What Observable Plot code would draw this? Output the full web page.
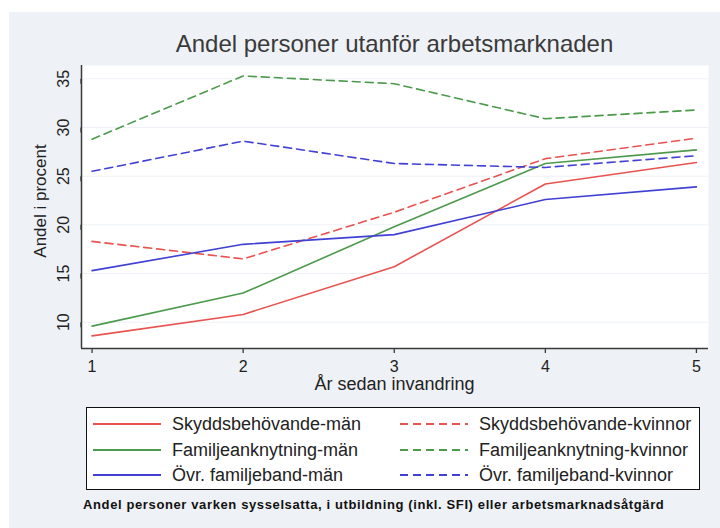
<!DOCTYPE html>
<html>
<head>
<meta charset="utf-8">
<script src="https://cdn.jsdelivr.net/npm/d3@7"></script>
<script src="https://cdn.jsdelivr.net/npm/@observablehq/plot@0.6"></script>
<style>
  html, body { margin: 0; padding: 0; background: #ffffff; }
  #wrap { position: relative; width: 720px; height: 528px; overflow: hidden; background: #ffffff;
          font-family: "Liberation Sans", Arial, Helvetica, sans-serif; color: #222; }
  #panel { position: absolute; left: 9px; top: 12px; right: 0; bottom: 0; background: #eef1f5; }
  #chart { position: absolute; left: 0; top: 0; }
  #chart svg { background: transparent; overflow: visible; }
  .title { position: absolute; left: 81px; width: 627px; top: 32px; text-align: center;
           font-size: 24px; line-height: 24px; color: #3a3a3a; white-space: nowrap; }
  .xtitle { position: absolute; left: 81px; width: 627px; top: 376px; text-align: center;
            font-size: 18px; line-height: 16px; color: #222; white-space: nowrap; }
  .ytitle { position: absolute; left: 40px; top: 201px; transform: translate(-50%, -50%) rotate(-90deg);
            font-size: 17px; line-height: 17px; color: #222; white-space: nowrap; }
  #legend { position: absolute; left: 86px; top: 407px; width: 614px; height: 83px; box-sizing: border-box;
            border: 1.5px solid #111; background: #ffffff; }
  .item { position: absolute; display: flex; align-items: center; height: 24px; white-space: nowrap;
          font-size: 18px; color: #222; }
  .item svg { display: block; margin-right: 11px; }
  .caption { position: absolute; left: 83px; top: 497px; font-size: 13px; letter-spacing: 0.62px;
             font-weight: bold; color: #111; white-space: nowrap; }
</style>
</head>
<body>
<div id="wrap">
  <div id="panel"></div>
  <div id="chart"></div>
  <div class="title">Andel personer utanför arbetsmarknaden</div>
  <div class="xtitle">År sedan invandring</div>
  <div class="ytitle">Andel i procent</div>
  <div id="legend"></div>
  <div class="caption">Andel personer varken sysselsatta, i utbildning (inkl. SFI) eller arbetsmarknadsåtgärd</div>
</div>
<script>
// ---- data ----
const years = [1, 2, 3, 4, 5];
const yTicks = [10, 15, 20, 25, 30, 35];
const xTicks = [1, 2, 3, 4, 5];

const skyddMan     = [8.6, 10.8, 15.7, 24.2, 26.4];
const skyddKvinnor = [18.3, 16.5, 21.3, 26.8, 28.9];
const famMan       = [9.6, 13.0, 19.8, 26.3, 27.7];
const famKvinnor   = [28.8, 35.3, 34.5, 30.9, 31.8];
const ovrMan       = [15.3, 18.0, 19.0, 22.6, 23.9];
const ovrKvinnor   = [25.5, 28.6, 26.3, 25.9, 27.1];

const seriesNames = [
  "Skyddsbehövande-män", "Skyddsbehövande-kvinnor",
  "Familjeanknytning-män", "Familjeanknytning-kvinnor",
  "Övr. familjeband-män", "Övr. familjeband-kvinnor"
];
const seriesValues = [skyddMan, skyddKvinnor, famMan, famKvinnor, ovrMan, ovrKvinnor];
const seriesColors = ["#e8524f", "#e8524f", "#4c9a4c", "#4c9a4c", "#4040d4", "#4040d4"];
const seriesDashed = [false, true, false, true, false, true];

// ---- rows ----
const rows = [];
seriesNames.forEach((name, s) => {
  years.forEach((yr, i) => rows.push({serie: name, year: yr, value: seriesValues[s][i]}));
});

const xDomain = [0.93, 5.08];
const yDomain = [7.3, 36.37];

const lineMarks = seriesNames.map((name, s) =>
  Plot.line(rows.filter(d => d.serie === name), {
    x: "year", y: "value",
    stroke: seriesColors[s],
    strokeWidth: 1.6,
    strokeDasharray: seriesDashed[s] ? "8,5" : null,
    curve: "linear"
  })
);

const chart = Plot.plot({
  width: 720,
  height: 400,
  marginLeft: 81,
  marginRight: 12,
  marginTop: 65,
  marginBottom: 52,
  style: {background: "transparent", fontFamily: "'Liberation Sans', Arial, sans-serif", color: "#222"},
  x: {domain: xDomain, axis: null},
  y: {domain: yDomain, axis: null},
  marks: [
    Plot.frame({fill: "#ffffff", stroke: "none"}),
    Plot.gridY(yTicks, {stroke: "#edf1f5", strokeOpacity: 1, strokeWidth: 1}),
    ...lineMarks,
    Plot.ruleX([xDomain[0]], {stroke: "#3a3a3a", strokeWidth: 1.5}),
    Plot.ruleY([yDomain[0]], {stroke: "#3a3a3a", strokeWidth: 1.5}),
    Plot.axisY(yTicks, {
      anchor: "left", tickSize: 5, tickPadding: 8, rotate: -90,
      textAnchor: "middle", lineAnchor: "bottom", fontSize: 16,
      label: null, stroke: "#3a3a3a", strokeWidth: 1.3, fill: "#222"
    }),
    Plot.axisX(xTicks, {
      anchor: "bottom", tickSize: 5, tickPadding: 7, fontSize: 16,
      label: null, tickFormat: d => String(d), stroke: "#3a3a3a", strokeWidth: 1.3, fill: "#222"
    })
  ]
});
document.getElementById("chart").appendChild(chart);

// ---- legend ----
const legend = document.getElementById("legend");
const rowCenters = [16, 42, 67];   // relative to legend box top
const colLine = [6, 313];
const lineLen = 68;
seriesNames.forEach((name, s) => {
  const r = Math.floor(s / 2), c = s % 2;
  const item = document.createElement("div");
  item.className = "item";
  item.style.left = colLine[c] + "px";
  item.style.top = (rowCenters[r] - 12) + "px";
  const ns = "http://www.w3.org/2000/svg";
  const svg = document.createElementNS(ns, "svg");
  svg.setAttribute("width", lineLen);
  svg.setAttribute("height", 6);
  const ln = document.createElementNS(ns, "line");
  ln.setAttribute("x1", 0); ln.setAttribute("x2", lineLen);
  ln.setAttribute("y1", 3); ln.setAttribute("y2", 3);
  ln.setAttribute("stroke", seriesColors[s]);
  ln.setAttribute("stroke-width", 1.8);
  if (seriesDashed[s]) ln.setAttribute("stroke-dasharray", "8,5");
  svg.appendChild(ln);
  item.appendChild(svg);
  const span = document.createElement("span");
  span.textContent = name;
  item.appendChild(span);
  legend.appendChild(item);
});
</script>
</body>
</html>
